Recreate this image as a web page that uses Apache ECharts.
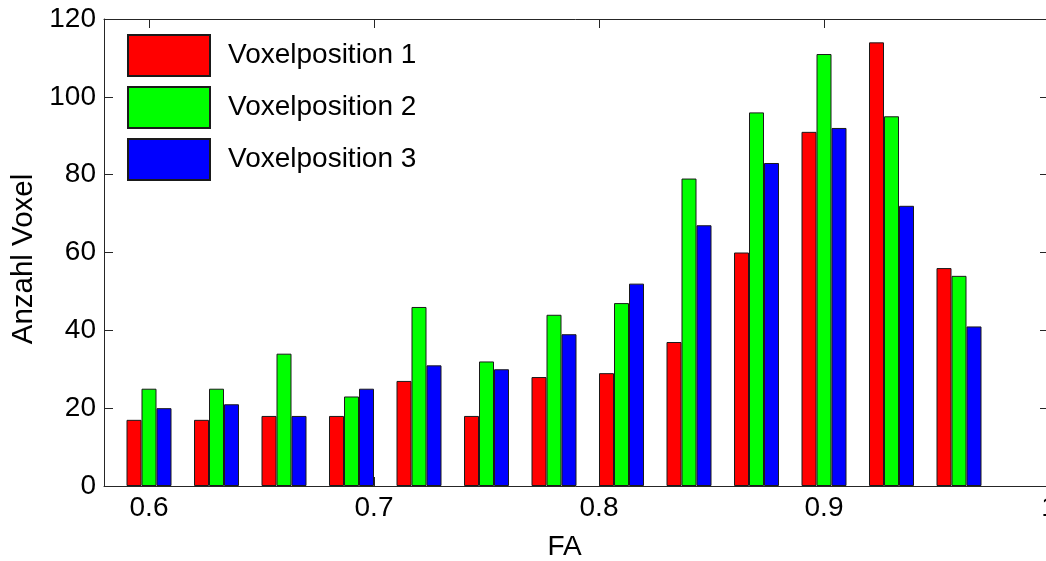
<!DOCTYPE html>
<html>
<head>
<meta charset="utf-8">
<script src="https://cdn.jsdelivr.net/npm/echarts@6/dist/echarts.min.js"></script>
<style>
  html, body { margin: 0; padding: 0; background: #fff; }
  #main { width: 1046px; height: 561px; }
</style>
</head>
<body>
<div id="main"></div>
<script>
// FA-Klassen (Mitte jeder Balkengruppe)
var fa = [0.6, 0.63, 0.66, 0.69, 0.72, 0.75, 0.78, 0.81, 0.84, 0.87, 0.9, 0.93, 0.96]
var names = ['Voxelposition 1', 'Voxelposition 2', 'Voxelposition 3']
var pos1 = [17, 17, 18, 18, 27, 18, 28, 29, 37, 60, 91, 114, 56]
var pos2 = [25, 25, 34, 23, 46, 32, 44, 47, 79, 96, 111, 95, 54]
var pos3 = [20, 21, 18, 25, 31, 30, 39, 52, 67, 83, 92, 72, 41]
var colors = ['#ff0000', '#00ff00', '#0000ff']

var font = 'Liberation Sans, Arial, Helvetica, sans-serif'
var fontSize = 28
var lineColor = '#262626'

function pairs(ys) {
  var out = []
  for (var i = 0; i < fa.length; i++) {
    out.push([fa[i], ys[i]])
  }
  return out
}

function makeSeries(name, ys, color) {
  return {
    name: name,
    type: 'bar',
    data: pairs(ys),
    barWidth: 15,
    barGap: '0%',
    itemStyle: {
      color: color,
      borderColor: '#1a1a1a',
      borderWidth: 1
    },
    emphasis: { disabled: true }
  }
}

var chart = echarts.init(document.getElementById('main'), null, { renderer: 'canvas' })

var option = {
  animation: false,
  textStyle: { fontFamily: font },
  grid: {
    left: 104,
    right: -3,
    top: 19,
    bottom: 75,
    outerBoundsMode: 'none',
    containLabel: false
  },
  legend: {
    left: 127,
    top: 34,
    padding: 0,
    orient: 'vertical',
    itemWidth: 82,
    itemHeight: 41,
    itemGap: 9,
    icon: 'rect',
    selectedMode: false,
    textStyle: {
      fontFamily: font,
      fontSize: fontSize,
      color: '#000',
      padding: [0, 0, 0, 13]
    },
    data: names
  },
  xAxis: [{
    type: 'value',
    min: 0.58,
    max: 1.0,
    splitNumber: 4,
    name: 'FA',
    nameLocation: 'middle',
    nameGap: 47,
    nameTextStyle: { fontFamily: font, fontSize: fontSize, color: '#000', padding: [0, 24, 0, 0] },
    axisLine: { show: true, onZero: false, lineStyle: { color: lineColor, width: 1 } },
    axisTick: { show: true, inside: true, length: 9, lineStyle: { color: lineColor } },
    axisLabel: { showMinLabel: false, fontSize: fontSize, color: '#000', margin: 8, fontFamily: font },
    splitLine: { show: false }
  }, {
    type: 'value',
    position: 'top',
    min: 0.58,
    max: 1.0,
    splitNumber: 4,
    axisLine: { show: true, onZero: false, lineStyle: { color: lineColor, width: 1 } },
    axisTick: { show: true, inside: true, length: 9, lineStyle: { color: lineColor } },
    axisLabel: { show: false },
    splitLine: { show: false }
  }],
  yAxis: [{
    type: 'value',
    min: 0,
    max: 120,
    interval: 20,
    name: 'Anzahl Voxel',
    nameLocation: 'middle',
    nameGap: 64,
    nameTextStyle: { fontFamily: font, fontSize: 29.5, color: '#000', padding: [0, 13, 0, 0] },
    axisLine: { show: true, lineStyle: { color: lineColor, width: 1 } },
    axisTick: { show: true, inside: true, length: 9, lineStyle: { color: lineColor } },
    axisLabel: { fontSize: fontSize, color: '#000', margin: 8, fontFamily: font },
    splitLine: { show: false }
  }, {
    type: 'value',
    position: 'right',
    min: 0,
    max: 120,
    interval: 20,
    axisLine: { show: true, lineStyle: { color: lineColor, width: 1 } },
    axisTick: { show: true, inside: true, length: 9, lineStyle: { color: lineColor } },
    axisLabel: { show: false },
    splitLine: { show: false }
  }],
  series: [
    makeSeries(names[0], pos1, colors[0]),
    makeSeries(names[1], pos2, colors[1]),
    makeSeries(names[2], pos3, colors[2])
  ]
}

chart.setOption(option)
</script>
</body>
</html>
